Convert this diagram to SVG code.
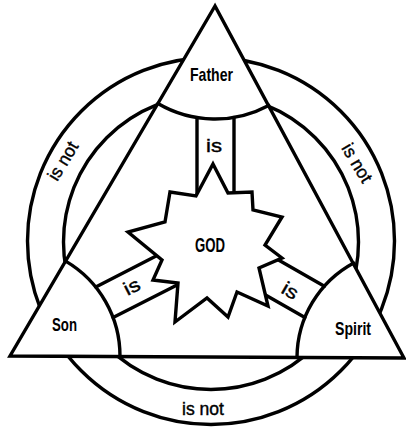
<svg xmlns="http://www.w3.org/2000/svg" width="406" height="428" viewBox="0 0 406 428">
<style>
.ln{fill:none;stroke:#000;stroke-width:3.4;stroke-linejoin:round;stroke-linecap:round}
.wf{fill:#fff;stroke:#000;stroke-width:3.4;stroke-linejoin:miter}
.nm{font-family:"Liberation Sans Narrow","Liberation Sans",Arial,sans-serif;font-weight:bold;fill:#000;text-anchor:middle}
.lb{font-family:"Liberation Sans Narrow","Liberation Sans",Arial,sans-serif;font-weight:normal;fill:#000;stroke:#000;stroke-width:0.4;text-anchor:middle}
</style>
<rect width="406" height="428" fill="#fff"/>
<g id="rings">
<circle class="ln" cx="211" cy="241" r="183.5"/>
<circle class="ln" cx="211" cy="242" r="147.5"/>
</g>
<g id="triangle">
<polygon class="wf" points="215,6 10,356 404,358"/>
</g>
<g id="connectors">
<path class="ln" d="M197,117.6 L197,202 M234,117.4 L234,200"/>
<path class="ln" d="M95.8,287 L160,254 M113.1,317.6 L181,283"/>
<path class="ln" d="M324.4,286.2 L275,258 M304.9,317.5 L262,293"/>
</g>
<g id="father">
<path class="ln" d="M157.9,103.5 A113,113 0 0 0 268.7,105.4"/>
<text class="nm" x="211.5" y="81" font-size="19" textLength="43" lengthAdjust="spacingAndGlyphs">Father</text>
</g>
<g id="son">
<path class="ln" d="M65.6,261.1 A110,110 0 0 1 120,356.6"/>
<text class="nm" x="64.5" y="331" font-size="19" textLength="25" lengthAdjust="spacingAndGlyphs">Son</text>
</g>
<g id="spirit">
<path class="ln" d="M353.7,263 A108,108 0 0 0 297,357.5"/>
<text class="nm" x="353" y="335" font-size="19" textLength="36" lengthAdjust="spacingAndGlyphs">Spirit</text>
</g>
<g id="god">
<polygon class="wf" points="213,164 228,193 252,192 253,210 282,217 265,245 282,258 259,268 268,306 237,292 228,317 207,298 175,322 178,283 153,280 162,260 128,232 165,222 170,192 196,196"/>
<text class="nm" x="210" y="252" font-size="20" textLength="30" lengthAdjust="spacingAndGlyphs">GOD</text>
</g>
<g id="labels">
<text class="lb" x="214" y="152" font-size="19" textLength="16" lengthAdjust="spacingAndGlyphs">is</text>
<text class="lb" transform="translate(132,287) rotate(-27)" y="6" font-size="19" textLength="16" lengthAdjust="spacingAndGlyphs">is</text>
<text class="lb" transform="translate(290,291) rotate(30)" y="6" font-size="19" textLength="16" lengthAdjust="spacingAndGlyphs">is</text>
<text class="lb" transform="translate(63,161) rotate(-59)" y="6" font-size="18" textLength="42" lengthAdjust="spacingAndGlyphs">is not</text>
<text class="lb" transform="translate(357,163) rotate(59)" y="6" font-size="18" textLength="42" lengthAdjust="spacingAndGlyphs">is not</text>
<text class="lb" x="203" y="415" font-size="18" textLength="42" lengthAdjust="spacingAndGlyphs">is not</text>
</g>
</svg>
